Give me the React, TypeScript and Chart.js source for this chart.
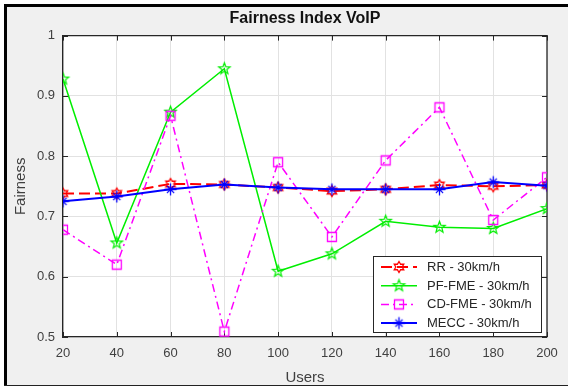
import React, { useEffect, useRef } from "react";
import { Chart, registerables } from "chart.js";

Chart.register(...registerables);

const FONT = "'Liberation Sans', Arial, Helvetica, sans-serif";

const users = [20, 40, 60, 80, 100, 120, 140, 160, 180, 200];
const rr = [0.738, 0.738, 0.754, 0.753, 0.748, 0.742, 0.745, 0.752, 0.75, 0.752];
const pfFme = [0.928, 0.656, 0.873, 0.945, 0.609, 0.638, 0.692, 0.682, 0.68, 0.713];
const cdFme = [0.678, 0.62, 0.867, 0.509, 0.79, 0.666, 0.793, 0.881, 0.694, 0.765];
const mecc = [0.725, 0.733, 0.745, 0.753, 0.748, 0.745, 0.745, 0.745, 0.757, 0.751];
const seriesLabels = ["RR - 30km/h", "PF-FME - 30km/h", "CD-FME - 30km/h", "MECC - 30km/h"];
const yTickValues = [0.5, 0.6, 0.7, 0.8, 0.9, 1];
const titleText = "Fairness Index VoIP";
const xTitle = "Users";
const yTitle = "Fairness";

const AXIS_COLOR = "#262626";
const TICK_TEXT = "#404040";

function makeMarker(kind: string, color: string, size: number, lw: number): HTMLCanvasElement {
  const s = Math.ceil(size + lw * 2 + 2);
  const c = document.createElement("canvas");
  c.width = s;
  c.height = s;
  const ctx = c.getContext("2d")!;
  ctx.strokeStyle = color;
  ctx.lineWidth = lw;
  ctx.lineJoin = "miter";
  const cx = s / 2;
  const cy = s / 2;
  const r = size / 2;
  ctx.beginPath();
  if (kind === "pentagram" || kind === "hexagram") {
    const n = kind === "pentagram" ? 5 : 6;
    const inner = kind === "pentagram" ? r * 0.42 : r * 0.58;
    for (let i = 0; i < 2 * n; i++) {
      const a = -Math.PI / 2 + (i * Math.PI) / n;
      const rad = i % 2 === 0 ? r : inner;
      const px = cx + rad * Math.cos(a);
      const py = cy + rad * Math.sin(a);
      if (i === 0) ctx.moveTo(px, py);
      else ctx.lineTo(px, py);
    }
    ctx.closePath();
  } else if (kind === "square") {
    ctx.rect(cx - r, cy - r, 2 * r, 2 * r);
  } else {
    for (let k = 0; k < 4; k++) {
      const a = (k * Math.PI) / 4;
      const rad = k % 2 === 0 ? r : r * 0.85;
      ctx.moveTo(cx - rad * Math.cos(a), cy - rad * Math.sin(a));
      ctx.lineTo(cx + rad * Math.cos(a), cy + rad * Math.sin(a));
    }
  }
  ctx.stroke();
  return c;
}

const framePlugin = {
  id: "matlabFrame",
  beforeDraw(chart: any) {
    const { ctx, width, height, chartArea } = chart;
    ctx.save();
    ctx.fillStyle = "#ffffff";
    ctx.fillRect(0, 0, width, height);
    ctx.fillStyle = "#f0f0f0";
    ctx.fillRect(4, 4, width - 4, height - 5);
    ctx.fillStyle = "#000000";
    ctx.fillRect(4, 4, 3, height - 5);
    ctx.fillRect(4, 4, width - 4, 3);
    ctx.fillStyle = "#222222";
    ctx.fillRect(4, height - 2, width - 4, 1);
    ctx.fillStyle = "#ffffff";
    ctx.fillRect(chartArea.left, chartArea.top, chartArea.right - chartArea.left, chartArea.bottom - chartArea.top);
    ctx.restore();
  },
  beforeDatasetsDraw(chart: any) {
    const { ctx, chartArea, scales } = chart;
    const { left, right, top, bottom } = chartArea;
    ctx.save();
    ctx.strokeStyle = AXIS_COLOR;
    ctx.lineWidth = 1;
    ctx.beginPath();
    const tl = 5;
    users.forEach((u) => {
      const x = Math.round(scales.x.getPixelForValue(u)) + 0.5;
      ctx.moveTo(x, bottom);
      ctx.lineTo(x, bottom - tl);
      ctx.moveTo(x, top);
      ctx.lineTo(x, top + tl);
    });
    yTickValues.forEach((v) => {
      const y = Math.round(scales.y.getPixelForValue(v)) + 0.5;
      ctx.moveTo(left, y);
      ctx.lineTo(left + tl, y);
      ctx.moveTo(right, y);
      ctx.lineTo(right - tl, y);
    });
    ctx.stroke();
    ctx.lineWidth = 1.3;
    ctx.beginPath();
    ctx.moveTo(left, top);
    ctx.lineTo(right, top);
    ctx.lineTo(right, bottom);
    ctx.stroke();
    ctx.restore();
  },
  afterDatasetsDraw(chart: any) {
    const { ctx, chartArea } = chart;
    const w = 168;
    const rowH = 18.7;
    const h = 76;
    const x0 = Math.round(chartArea.right - 6 - w);
    const y0 = Math.round(chartArea.bottom - 5 - h);
    ctx.save();
    ctx.fillStyle = "#ffffff";
    ctx.fillRect(x0, y0, w, h);
    ctx.strokeStyle = AXIS_COLOR;
    ctx.lineWidth = 1;
    ctx.strokeRect(x0 + 0.5, y0 + 0.5, w, h);
    chart.data.datasets.forEach((ds: any, i: number) => {
      const cy = y0 + 11 + i * rowH;
      ctx.save();
      ctx.strokeStyle = ds.borderColor;
      ctx.lineWidth = ds.borderWidth;
      ctx.setLineDash(ds.borderDash || []);
      ctx.beginPath();
      ctx.moveTo(x0 + 8, cy);
      ctx.lineTo(x0 + 44, cy);
      ctx.stroke();
      ctx.restore();
      const m = ds.pointStyle as HTMLCanvasElement;
      ctx.drawImage(m, x0 + 26 - m.width / 2, cy - m.height / 2);
      ctx.fillStyle = "#262626";
      ctx.font = `13px ${FONT}`;
      ctx.textBaseline = "middle";
      ctx.textAlign = "left";
      ctx.fillText(ds.label, x0 + 54, cy + 0.5);
    });
    ctx.restore();
  },
};

function toPoints(vals: number[]) {
  return users.map((u, i) => ({ x: u, y: vals[i] }));
}

export default function App() {
  const ref = useRef<HTMLCanvasElement>(null);
  useEffect(() => {
    const mkHex = makeMarker("hexagram", "#ff0000", 11, 1.3);
    const mkPent = makeMarker("pentagram", "#00ee00", 12, 1.2);
    const mkSq = makeMarker("square", "#ff00ff", 9, 1.3);
    const mkAst = makeMarker("asterisk", "#0000ff", 12, 1.3);
    const chart = new Chart(ref.current!, {
      type: "line",
      data: {
        datasets: [
          {
            label: seriesLabels[0],
            data: toPoints(rr),
            borderColor: "#ff0000",
            borderWidth: 2,
            borderDash: [11, 5],
            pointStyle: mkHex as any,
            pointRadius: 6,
            order: 4,
            tension: 0,
          },
          {
            label: seriesLabels[1],
            data: toPoints(pfFme),
            borderColor: "#00ee00",
            borderWidth: 1.5,
            pointStyle: mkPent as any,
            pointRadius: 6,
            order: 3,
            tension: 0,
          },
          {
            label: seriesLabels[2],
            data: toPoints(cdFme),
            borderColor: "#ff00ff",
            borderWidth: 1.5,
            borderDash: [8, 4, 2, 4],
            pointStyle: mkSq as any,
            pointRadius: 6,
            order: 2,
            tension: 0,
          },
          {
            label: seriesLabels[3],
            data: toPoints(mecc),
            borderColor: "#0000ff",
            borderWidth: 2,
            pointStyle: mkAst as any,
            pointRadius: 6,
            order: 1,
            tension: 0,
          },
        ] as any,
      },
      options: {
        responsive: false,
        animation: false,
        events: [],
        layout: { padding: { left: 8, top: 4, right: 21, bottom: 0 } },
        plugins: {
          legend: { display: false },
          tooltip: { enabled: false },
          title: {
            display: true,
            fullSize: false,
            text: titleText,
            color: "#111111",
            font: { family: FONT, size: 16, weight: "bold", lineHeight: 1.2 },
            padding: { top: 5.4, bottom: 7 },
          },
        },
        scales: {
          x: {
            type: "linear",
            min: 20,
            max: 200,
            afterBuildTicks: (s: any) => {
              s.ticks = users.map((v) => ({ value: v }));
            },
            ticks: {
              color: TICK_TEXT,
              font: { family: FONT, size: 13 },
              padding: 9,
              maxRotation: 0,
              autoSkip: false,
            },
            grid: { color: "#e2e2e2", drawTicks: false, lineWidth: 1 },
            border: { color: AXIS_COLOR, width: 1.3 },
            title: {
              display: true,
              text: xTitle,
              color: TICK_TEXT,
              font: { family: FONT, size: 15, lineHeight: 1.2 },
              padding: { top: 0, bottom: 0 },
            },
            afterFit: (s: any) => {
              s.height = 50;
            },
          },
          y: {
            type: "linear",
            min: 0.5,
            max: 1,
            afterBuildTicks: (s: any) => {
              s.ticks = yTickValues.map((v) => ({ value: v }));
            },
            ticks: {
              color: TICK_TEXT,
              font: { family: FONT, size: 13 },
              padding: 8,
              callback: (v: any) => String(Number(Number(v).toFixed(1))),
            },
            grid: { color: "#e2e2e2", drawTicks: false, lineWidth: 1 },
            border: { color: AXIS_COLOR, width: 1.3 },
            title: {
              display: true,
              text: yTitle,
              color: TICK_TEXT,
              font: { family: FONT, size: 15, lineHeight: 1.2 },
              padding: { top: 4, bottom: 0 },
            },
            afterFit: (s: any) => {
              s.width = 55;
            },
          },
        },
      } as any,
      plugins: [framePlugin],
    });
    return () => chart.destroy();
  }, []);
  return (
    <div style={{ position: "fixed", left: 0, top: 0, width: 568, height: 387 }}>
      <canvas ref={ref} width={568} height={387} style={{ display: "block", width: 568, height: 387 }} />
    </div>
  );
}
